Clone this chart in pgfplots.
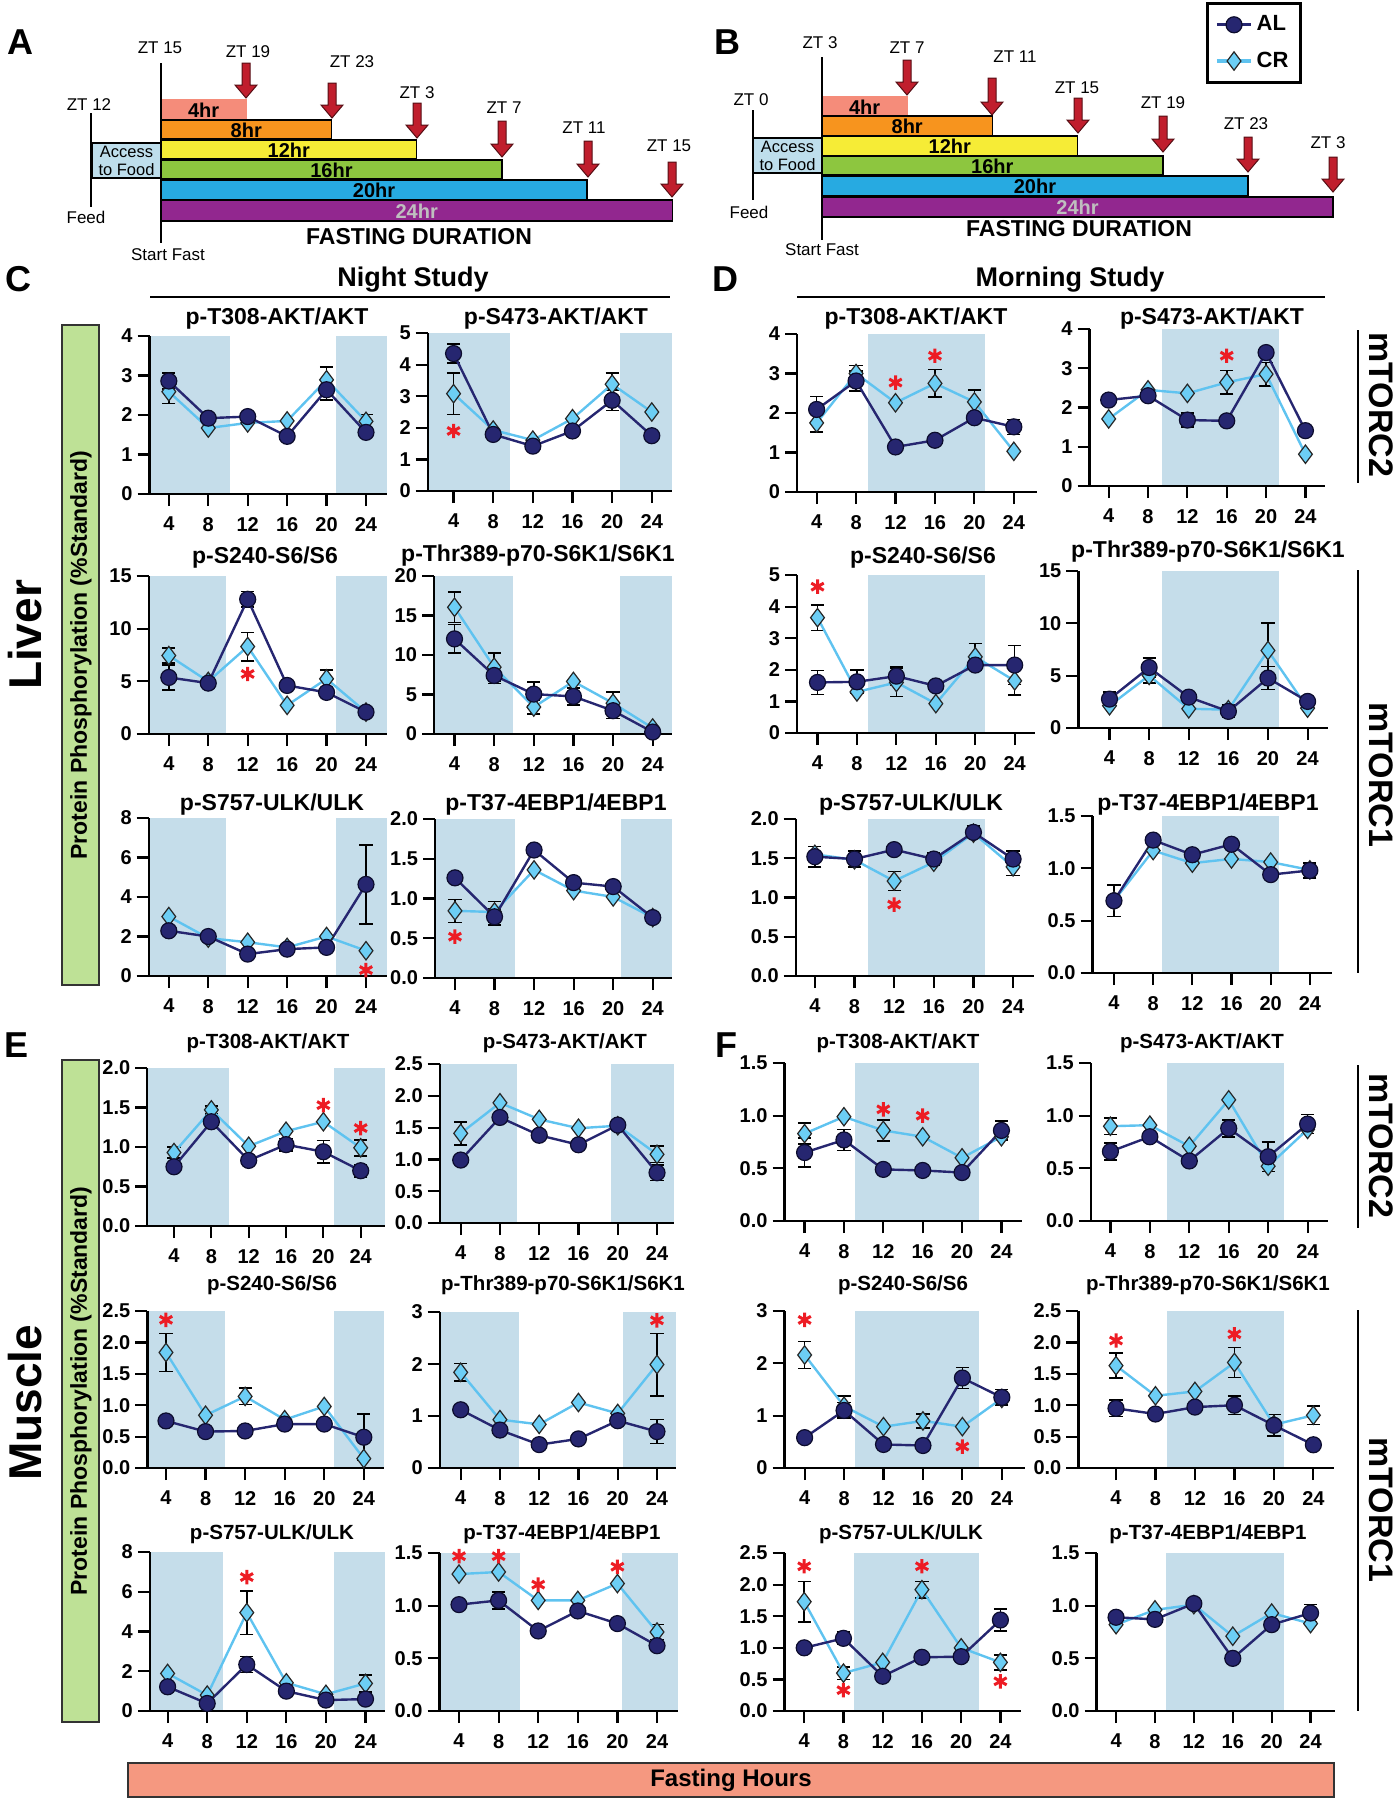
\documentclass[border=0pt]{standalone}
\usepackage{fontspec}
\setmainfont{Liberation Sans}
\usepackage{pgfplots}
\pgfplotsset{compat=1.18}
\definecolor{shade}{RGB}{197,221,234}
\definecolor{alc}{RGB}{38,38,112}
\definecolor{aledge}{RGB}{12,12,45}
\definecolor{crc}{RGB}{108,206,245}
\definecolor{crline}{RGB}{95,195,240}
\definecolor{astred}{RGB}{237,28,36}
\definecolor{arrowred}{RGB}{192,30,45}
\definecolor{bar4}{RGB}{245,140,122}
\definecolor{bar8}{RGB}{247,148,30}
\definecolor{bar12}{RGB}{246,236,54}
\definecolor{bar16}{RGB}{141,198,63}
\definecolor{bar20}{RGB}{39,170,225}
\definecolor{bar24}{RGB}{146,39,143}
\definecolor{accessc}{RGB}{190,222,236}
\definecolor{greenbox}{RGB}{190,225,150}
\definecolor{fastc}{RGB}{245,152,128}
\pgfplotsset{
 /pgf/number format/assume math mode=true,
 panel/.style={scale only axis, anchor=south west, axis on top, clip=false,
   axis x line*=bottom, axis y line*=left, axis line style={line width=1.2pt},
   every tick/.style={black, line width=1.1pt}, tick align=outside, major tick length=6pt,
   xtick={4,8,12,16,20,24}, ymin=0, minor tick num=0,
   tick label style={font=\bfseries\fontsize{10}{12}\selectfont},
   xticklabel style={yshift=-2pt}, yticklabel style={xshift=1pt}},
 dec/.style={yticklabel style={/pgf/number format/fixed, /pgf/number format/fixed zerofill, /pgf/number format/precision=1}},
 shadeplot/.style={fill=shade, draw=none, forget plot},
 alp/.style={color=alc, line width=1.2pt, mark=*, mark size=4pt, mark options={fill=alc, draw=aledge, line width=0.6pt}, forget plot},
 crp/.style={color=crline, line width=1.2pt, mark=diamond*, mark size=4.6pt, mark options={fill=crc, draw=black!85, line width=0.6pt}, forget plot},
 errp/.style={black, only marks, mark=none, forget plot, error bars/.cd, y dir=both, y explicit, error bar style={line width=0.8pt, black}, error mark options={rotate=90, black, line width=0.8pt, mark size=3.3pt}},
 astp/.style={only marks, mark=asterisk, mark size=3.6pt, color=astred, mark options={line width=1.5pt}, forget plot},
 barst/.style={draw=black, line width=0.8pt, forget plot},
}
\newcommand\ttlL[3]{\node[font=\bfseries\fontsize{11.5}{13}\selectfont] at (#1,#2) {#3};}
\newcommand\ttlM[3]{\node[font=\bfseries\fontsize{10.25}{12}\selectfont] at (#1,#2) {#3};}
\newcommand\zt[3]{\node[font=\fontsize{8.5}{10}\selectfont] at (#1,#2) {#3};}
\newcommand\darr[3]{\filldraw[fill=arrowred, draw=black!55!arrowred, line width=0.5pt] (#1-4,#2) -- (#1+4,#2) -- (#1+4,#3-13) -- (#1+11,#3-13) -- (#1,#3) -- (#1-11,#3-13) -- (#1-4,#3-13) -- cycle;}
\begin{document}
\begin{tikzpicture}[x=0.5pt,y=-0.5pt]
\useasboundingbox (0,0) rectangle (1398,1800);

% ================= Panel A =================
\begin{axis}[at={(0pt,-132.5pt)}, anchor=south west, scale only axis, width=350pt, height=132.5pt, hide axis, clip=false, xmin=-7.56, xmax=25.3, ymin=0, ymax=265, y dir=reverse]
\addplot[barst, fill=accessc] coordinates {(-3.24,143) (0,143) (0,178) (-3.24,178)} -- cycle;
\addplot[barst, fill=bar4, draw=bar4] coordinates {(0,100) (4,100) (4,119) (0,119)} -- cycle;
\addplot[barst, fill=bar8] coordinates {(0,120) (8,120) (8,139) (0,139)} -- cycle;
\addplot[barst, fill=bar12] coordinates {(0,140) (12,140) (12,159) (0,159)} -- cycle;
\addplot[barst, fill=bar16] coordinates {(0,160) (16,160) (16,179) (0,179)} -- cycle;
\addplot[barst, fill=bar20] coordinates {(0,180) (20,180) (20,200) (0,200)} -- cycle;
\addplot[barst, fill=bar24] coordinates {(0,200) (24,200) (24,221) (0,221)} -- cycle;
\node[font=\bfseries\fontsize{10}{11}\selectfont] at (axis cs:2,110) {4hr};
\node[font=\bfseries\fontsize{10}{11}\selectfont] at (axis cs:4,130) {8hr};
\node[font=\bfseries\fontsize{10}{11}\selectfont] at (axis cs:6,150) {12hr};
\node[font=\bfseries\fontsize{10}{11}\selectfont] at (axis cs:8,170) {16hr};
\node[font=\bfseries\fontsize{10}{11}\selectfont] at (axis cs:10,190) {20hr};
\node[font=\bfseries\fontsize{10}{11}\selectfont, text=black!25] at (axis cs:12,211) {24hr};
\node[font=\fontsize{8.25}{9}\selectfont, align=center, inner sep=0pt] at (axis cs:-1.62,160.5) {Access\\to Food};
\end{axis}
% ================= Panel B =================
\begin{axis}[at={(350pt,-132.5pt)}, anchor=south west, scale only axis, width=349pt, height=132.5pt, hide axis, clip=false, xmin=-5.73, xmax=27.05, ymin=0, ymax=265, y dir=reverse]
\addplot[barst, fill=accessc] coordinates {(-3.24,138) (0,138) (0,173) (-3.24,173)} -- cycle;
\addplot[barst, fill=bar4, draw=bar4] coordinates {(0,97) (4,97) (4,116) (0,116)} -- cycle;
\addplot[barst, fill=bar8] coordinates {(0,116) (8,116) (8,136) (0,136)} -- cycle;
\addplot[barst, fill=bar12] coordinates {(0,136) (12,136) (12,156) (0,156)} -- cycle;
\addplot[barst, fill=bar16] coordinates {(0,156) (16,156) (16,175) (0,175)} -- cycle;
\addplot[barst, fill=bar20] coordinates {(0,176) (20,176) (20,196) (0,196)} -- cycle;
\addplot[barst, fill=bar24] coordinates {(0,197) (24,197) (24,217) (0,217)} -- cycle;
\node[font=\bfseries\fontsize{10}{11}\selectfont] at (axis cs:2,107) {4hr};
\node[font=\bfseries\fontsize{10}{11}\selectfont] at (axis cs:4,126.5) {8hr};
\node[font=\bfseries\fontsize{10}{11}\selectfont] at (axis cs:6,146.5) {12hr};
\node[font=\bfseries\fontsize{10}{11}\selectfont] at (axis cs:8,166) {16hr};
\node[font=\bfseries\fontsize{10}{11}\selectfont] at (axis cs:10,186.5) {20hr};
\node[font=\bfseries\fontsize{10}{11}\selectfont, text=black!25] at (axis cs:12,207.5) {24hr};
\node[font=\fontsize{8.25}{9}\selectfont, align=center, inner sep=0pt] at (axis cs:-1.62,155.5) {Access\\to Food};
\end{axis}

% A annotations
\node[font=\bfseries\fontsize{18}{20}\selectfont] at (20,42) {A};
\draw[line width=0.8pt] (161,63) -- (161,243);
\draw[line width=0.8pt] (91,113) -- (91,207);
\zt{160}{48}{ZT 15}
\zt{89}{105}{ZT 12}
\zt{86}{217}{Feed}
\zt{168}{255}{Start Fast}
\darr{246}{63}{98}\zt{248}{52}{ZT 19}
\darr{332}{83}{118}\zt{352}{62}{ZT 23}
\darr{417}{103}{138}\zt{417}{93}{ZT 3}
\darr{502}{121}{157}\zt{504}{108}{ZT 7}
\darr{588}{141}{177}\zt{584}{128}{ZT 11}
\darr{672}{162}{197}\zt{669}{146}{ZT 15}
\node[font=\bfseries\fontsize{11.5}{13}\selectfont] at (419,237) {FASTING DURATION};
% B annotations
\node[font=\bfseries\fontsize{18}{20}\selectfont] at (727,42) {B};
\draw[line width=0.8pt] (822,57) -- (822,240);
\draw[line width=0.8pt] (753,110) -- (753,200);
\zt{820}{43}{ZT 3}
\zt{751}{100}{ZT 0}
\zt{749}{212}{Feed}
\zt{822}{250}{Start Fast}
\darr{907}{60}{95}\zt{907}{48}{ZT 7}
\darr{992}{78}{115}\zt{1015}{57}{ZT 11}
\darr{1078}{98}{133}\zt{1077}{88}{ZT 15}
\darr{1163}{116}{152}\zt{1163}{103}{ZT 19}
\darr{1248}{137}{172}\zt{1246}{124}{ZT 23}
\darr{1333}{157}{192}\zt{1328}{143}{ZT 3}
\node[font=\bfseries\fontsize{11.5}{13}\selectfont] at (1079,229) {FASTING DURATION};

% Section headers
\node[font=\bfseries\fontsize{18}{20}\selectfont] at (18,279) {C};
\node[font=\bfseries\fontsize{18}{20}\selectfont] at (725,279) {D};
\node[font=\bfseries\fontsize{18}{20}\selectfont] at (17,1045) {E};
\node[font=\bfseries\fontsize{18}{20}\selectfont] at (726,1045) {F};
\node[font=\bfseries\fontsize{13.5}{15}\selectfont] at (413,280) {Night Study};
\draw[line width=1pt] (150,297) -- (670,297);
\node[font=\bfseries\fontsize{13.5}{15}\selectfont] at (1070,280) {Morning Study};
\draw[line width=1pt] (797,297) -- (1325,297);

% Left labels
\node[rotate=90, font=\bfseries\fontsize{23}{26}\selectfont] at (25,635) {Liver};
\node[rotate=90, font=\bfseries\fontsize{23}{26}\selectfont] at (25,1403) {Muscle};
\filldraw[fill=greenbox, draw=black!80, line width=1.2pt] (62,325) rectangle (99,985);
\filldraw[fill=greenbox, draw=black!80, line width=1.2pt] (62,1060) rectangle (99,1722);
\node[rotate=90, font=\bfseries\fontsize{11.5}{13}\selectfont] at (81,655) {Protein Phosphorylation (\%Standard)};
\node[rotate=90, font=\bfseries\fontsize{11.5}{13}\selectfont] at (81,1391) {Protein Phosphorylation (\%Standard)};

% Right labels
\draw[line width=1pt] (1358,330) -- (1358,483);
\draw[line width=1pt] (1358,570) -- (1358,973);
\draw[line width=1pt] (1358,1065) -- (1358,1228);
\draw[line width=1pt] (1358,1310) -- (1358,1711);
\node[rotate=-90, font=\bfseries\fontsize{17}{20}\selectfont] at (1381,405) {mTORC2};
\node[rotate=-90, font=\bfseries\fontsize{17}{20}\selectfont] at (1381,775) {mTORC1};
\node[rotate=-90, font=\bfseries\fontsize{17}{20}\selectfont] at (1381,1146) {mTORC2};
\node[rotate=-90, font=\bfseries\fontsize{17}{20}\selectfont] at (1381,1510) {mTORC1};

% Fasting hours bar
\filldraw[fill=fastc, draw=black!80, line width=1.2pt] (128,1763) rectangle (1334,1797);
\node[font=\bfseries\fontsize{12}{14}\selectfont] at (731,1780) {Fasting Hours};

% Titles
\ttlL{277}{319}{p-T308-AKT/AKT}
\ttlL{556}{319}{p-S473-AKT/AKT}
\ttlL{265}{558}{p-S240-S6/S6}
\ttlL{538}{556}{p-Thr389-p70-S6K1/S6K1}
\ttlL{272}{805}{p-S757-ULK/ULK}
\ttlL{556}{805}{p-T37-4EBP1/4EBP1}
\ttlL{916}{319}{p-T308-AKT/AKT}
\ttlL{1212}{319}{p-S473-AKT/AKT}
\ttlL{923}{558}{p-S240-S6/S6}
\ttlL{1208}{552}{p-Thr389-p70-S6K1/S6K1}
\ttlL{911}{805}{p-S757-ULK/ULK}
\ttlL{1208}{805}{p-T37-4EBP1/4EBP1}
\ttlM{268}{1043}{p-T308-AKT/AKT}
\ttlM{565}{1043}{p-S473-AKT/AKT}
\ttlM{272}{1285}{p-S240-S6/S6}
\ttlM{563}{1285}{p-Thr389-p70-S6K1/S6K1}
\ttlM{272}{1534}{p-S757-ULK/ULK}
\ttlM{562}{1534}{p-T37-4EBP1/4EBP1}
\ttlM{898}{1043}{p-T308-AKT/AKT}
\ttlM{1202}{1043}{p-S473-AKT/AKT}
\ttlM{903}{1285}{p-S240-S6/S6}
\ttlM{1208}{1285}{p-Thr389-p70-S6K1/S6K1}
\ttlM{901}{1534}{p-S757-ULK/ULK}
\ttlM{1208}{1534}{p-T37-4EBP1/4EBP1}

% ================= C1 =================
\begin{axis}[panel, at={(74.8pt,-247pt)}, width=118.5pt, height=79pt, xmin=2.05, xmax=26.09, ymax=4, ytick distance=1]
\addplot[shadeplot] coordinates {(2.05,4) (10.2,4)} \closedcycle;
\addplot[shadeplot] coordinates {(21.0,4) (26.09,4)} \closedcycle;
\addplot[errp] coordinates {(4,2.59) +- (0,0.3) (20,2.89) +- (0,0.33) (24,1.84) +- (0,0.17)};
\addplot[errp] coordinates {(4,2.86) +- (0,0.2) (20,2.64) +- (0,0.26)};
\addplot[crp] coordinates {(4,2.59) (8,1.67) (12,1.80) (16,1.85) (20,2.89) (24,1.84)};
\addplot[alp] coordinates {(4,2.86) (8,1.92) (12,1.96) (16,1.46) (20,2.64) (24,1.56)};
\end{axis}
% ================= C2 =================
\begin{axis}[panel, at={(213.85pt,-245.5pt)}, width=122.1pt, height=79pt, xmin=1.39, xmax=26.03, ymax=5, ytick distance=1]
\addplot[shadeplot] coordinates {(1.39,5) (9.69,5)} \closedcycle;
\addplot[shadeplot] coordinates {(20.75,5) (26.03,5)} \closedcycle;
\addplot[errp] coordinates {(4,3.08) +- (0,0.66) (20,3.38) +- (0,0.36)};
\addplot[errp] coordinates {(4,4.35) +- (0,0.3) (20,2.87) +- (0,0.32)};
\addplot[crp] coordinates {(4,3.08) (8,1.93) (12,1.61) (16,2.29) (20,3.38) (24,2.5)};
\addplot[alp] coordinates {(4,4.35) (8,1.79) (12,1.42) (16,1.9) (20,2.87) (24,1.75)};
\addplot[astp] coordinates {(4,1.9)};
\end{axis}
% ================= C3 =================
\begin{axis}[panel, at={(74.35pt,-367pt)}, width=118.95pt, height=79pt, xmin=1.96, xmax=26.09, ymax=15, ytick distance=5]
\addplot[shadeplot] coordinates {(1.96,15) (9.8,15)} \closedcycle;
\addplot[shadeplot] coordinates {(21.0,15) (26.09,15)} \closedcycle;
\addplot[errp] coordinates {(4,7.45) +- (0,0.7) (12,8.3) +- (0,1.35) (20,5.24) +- (0,0.85)};
\addplot[errp] coordinates {(4,5.37) +- (0,1.2) (8,4.83) +- (0,0.5) (12,12.79) +- (0,0.75)};
\addplot[crp] coordinates {(4,7.45) (8,4.99) (12,8.3) (16,2.72) (20,5.24) (24,2.08)};
\addplot[alp] coordinates {(4,5.37) (8,4.83) (12,12.79) (16,4.61) (20,3.95) (24,2.08)};
\addplot[astp] coordinates {(12,5.7)};
\end{axis}
% ================= C4 =================
\begin{axis}[panel, at={(217pt,-367pt)}, width=119pt, height=79pt, xmin=1.93, xmax=25.95, ymax=20, ytick distance=5]
\addplot[shadeplot] coordinates {(1.93,20) (9.9,20)} \closedcycle;
\addplot[shadeplot] coordinates {(20.75,20) (25.95,20)} \closedcycle;
\addplot[errp] coordinates {(4,16.04) +- (0,1.9) (8,8.46) +- (0,1.8) (12,3.41) +- (0,0.9) (20,3.9) +- (0,1.4)};
\addplot[errp] coordinates {(4,12.04) +- (0,1.8) (8,7.41) +- (0,1.0) (12,5.05) +- (0,1.5) (16,4.76) +- (0,1.1) (20,2.95) +- (0,1.0)};
\addplot[crp] coordinates {(4,16.04) (8,8.46) (12,3.41) (16,6.65) (20,3.9) (24,0.76)};
\addplot[alp] coordinates {(4,12.04) (8,7.41) (12,5.05) (16,4.76) (20,2.95) (24,0.25)};
\end{axis}
% ================= C5 =================
\begin{axis}[panel, at={(74.35pt,-488pt)}, width=118.95pt, height=79pt, xmin=1.96, xmax=26.09, ymax=8, ytick distance=2]
\addplot[shadeplot] coordinates {(1.96,8) (9.8,8)} \closedcycle;
\addplot[shadeplot] coordinates {(21.0,8) (26.09,8)} \closedcycle;
\addplot[errp] coordinates {(24,4.64) +- (0,2.0)};
\addplot[crp] coordinates {(4,3.01) (8,1.92) (12,1.71) (16,1.45) (20,2.0) (24,1.28)};
\addplot[alp] coordinates {(4,2.29) (8,2.0) (12,1.11) (16,1.36) (20,1.45) (24,4.64)};
\addplot[astp] coordinates {(24,0.3)};
\end{axis}
% ================= C6 =================
\begin{axis}[panel, dec, at={(217.5pt,-489pt)}, width=118.5pt, height=79.5pt, xmin=1.98, xmax=25.95, ymax=2, ytick distance=0.5]
\addplot[shadeplot] coordinates {(1.98,2) (10.1,2)} \closedcycle;
\addplot[shadeplot] coordinates {(20.75,2) (25.95,2)} \closedcycle;
\addplot[errp] coordinates {(4,0.845) +- (0,0.145) (8,0.83) +- (0,0.13)};
\addplot[errp] coordinates {(8,0.77) +- (0,0.1)};
\addplot[crp] coordinates {(4,0.845) (8,0.83) (12,1.36) (16,1.1) (20,1.02) (24,0.76)};
\addplot[alp] coordinates {(4,1.26) (8,0.77) (12,1.61) (16,1.2) (20,1.15) (24,0.76)};
\addplot[astp] coordinates {(4,0.52)};
\end{axis}
% ================= D1 =================
\begin{axis}[panel, at={(398.5pt,-246pt)}, width=119.75pt, height=79pt, xmin=2.01, xmax=26.3, ymax=4, ytick distance=1]
\addplot[shadeplot] coordinates {(9.24,4) (21.07,4)} \closedcycle;
\addplot[errp] coordinates {(4,1.75) +- (0,0.23) (8,3.0) +- (0,0.2) (16,2.75) +- (0,0.35) (20,2.28) +- (0,0.3)};
\addplot[errp] coordinates {(4,2.09) +- (0,0.33) (8,2.81) +- (0,0.25) (24,1.65) +- (0,0.19)};
\addplot[crp] coordinates {(4,1.75) (8,3.0) (12,2.26) (16,2.75) (20,2.28) (24,1.03)};
\addplot[alp] coordinates {(4,2.09) (8,2.81) (12,1.14) (16,1.31) (20,1.88) (24,1.65)};
\addplot[astp] coordinates {(12,2.77) (16,3.45)};
\end{axis}
% ================= D2 =================
\begin{axis}[panel, at={(544.75pt,-243pt)}, width=117.95pt, height=78.5pt, xmin=2.05, xmax=26.03, ymax=4, ytick distance=1,
  legend style={at={(0.697,2.822)}, anchor=center, draw=black, line width=1.4pt, fill=white, font=\bfseries\fontsize{11}{13}\selectfont, inner xsep=4pt, inner ysep=4pt, row sep=5pt, cells={anchor=west}}]
\addplot[shadeplot] coordinates {(9.42,4) (21.29,4)} \closedcycle;
\addplot[errp] coordinates {(16,2.64) +- (0,0.3) (20,2.85) +- (0,0.3)};
\addplot[errp] coordinates {(12,1.68) +- (0,0.18)};
\addplot[crp] coordinates {(4,1.71) (8,2.45) (12,2.36) (16,2.64) (20,2.85) (24,0.81)};
\addplot[alp] coordinates {(4,2.19) (8,2.3) (12,1.68) (16,1.66) (20,3.4) (24,1.41)};
\addplot[astp] coordinates {(16,3.32)};
\addlegendimage{color=alc, line width=1.6pt, mark=*, mark size=4pt, mark options={fill=alc, draw=aledge, line width=0.6pt}}
\addlegendentry{AL}
\addlegendimage{color=crline, line width=1.6pt, mark=diamond*, mark size=4.6pt, mark options={fill=crc, draw=black!85, line width=0.6pt}}
\addlegendentry{CR}
\end{axis}
% ================= D3 =================
\begin{axis}[panel, at={(398.5pt,-366.5pt)}, width=118.9pt, height=79pt, xmin=1.92, xmax=26.04, ymax=5, ytick distance=1]
\addplot[shadeplot] coordinates {(9.15,5) (20.98,5)} \closedcycle;
\addplot[errp] coordinates {(4,3.65) +- (0,0.4) (12,1.6) +- (0,0.45) (20,2.41) +- (0,0.42) (24,1.65) +- (0,0.45)};
\addplot[errp] coordinates {(4,1.6) +- (0,0.38) (8,1.62) +- (0,0.37) (12,1.8) +- (0,0.3) (24,2.15) +- (0,0.62)};
\addplot[crp] coordinates {(4,3.65) (8,1.3) (12,1.6) (16,0.93) (20,2.41) (24,1.65)};
\addplot[alp] coordinates {(4,1.6) (8,1.62) (12,1.8) (16,1.49) (20,2.15) (24,2.15)};
\addplot[astp] coordinates {(4,4.63)};
\end{axis}
% ================= D4 =================
\begin{axis}[panel, at={(539.2pt,-364pt)}, width=124.65pt, height=78.5pt, xmin=0.86, xmax=26.03, ymax=15, ytick distance=5]
\addplot[shadeplot] coordinates {(9.3,15) (21.09,15)} \closedcycle;
\addplot[errp] coordinates {(8,5.02) +- (0,0.7) (20,7.4) +- (0,2.65)};
\addplot[errp] coordinates {(4,2.76) +- (0,0.7) (8,5.78) +- (0,0.9) (16,1.59) +- (0,0.6) (20,4.77) +- (0,1.1)};
\addplot[crp] coordinates {(4,2.13) (8,5.02) (12,1.84) (16,1.75) (20,7.4) (24,1.9)};
\addplot[alp] coordinates {(4,2.76) (8,5.78) (12,2.95) (16,1.59) (20,4.77) (24,2.54)};
\end{axis}
% ================= D5 =================
\begin{axis}[panel, dec, at={(397.85pt,-488pt)}, width=119.1pt, height=78.5pt, xmin=2.07, xmax=26.1, ymax=2, ytick distance=0.5]
\addplot[shadeplot] coordinates {(9.4,2) (21.17,2)} \closedcycle;
\addplot[errp] coordinates {(12,1.21) +- (0,0.12) (24,1.39) +- (0,0.11)};
\addplot[errp] coordinates {(4,1.52) +- (0,0.13) (8,1.49) +- (0,0.1) (16,1.49) +- (0,0.08) (20,1.83) +- (0,0.08) (24,1.49) +- (0,0.1)};
\addplot[crp] coordinates {(4,1.55) (8,1.48) (12,1.21) (16,1.45) (20,1.82) (24,1.39)};
\addplot[alp] coordinates {(4,1.52) (8,1.49) (12,1.61) (16,1.49) (20,1.83) (24,1.49)};
\addplot[astp] coordinates {(12,0.91)};
\end{axis}
% ================= D6 =================
\begin{axis}[panel, dec, at={(546.3pt,-486.5pt)}, width=119.7pt, height=78.5pt, xmin=1.82, xmax=26.26, ymax=1.5, ytick distance=0.5]
\addplot[shadeplot] coordinates {(8.9,1.5) (20.8,1.5)} \closedcycle;
\addplot[errp] coordinates {(4,0.69) +- (0,0.15) (24,0.98) +- (0,0.07)};
\addplot[crp] coordinates {(4,0.69) (8,1.17) (12,1.05) (16,1.09) (20,1.06) (24,0.985)};
\addplot[alp] coordinates {(4,0.69) (8,1.27) (12,1.13) (16,1.23) (20,0.94) (24,0.98)};
\end{axis}
% ================= E1 =================
\begin{axis}[panel, dec, at={(73.65pt,-613pt)}, width=118.75pt, height=79pt, xmin=1.14, xmax=26.58, ymax=2, ytick distance=0.5]
\addplot[shadeplot] coordinates {(1.14,2) (9.85,2)} \closedcycle;
\addplot[shadeplot] coordinates {(21.1,2) (26.58,2)} \closedcycle;
\addplot[errp] coordinates {(4,0.93) +- (0,0.07) (8,1.47) +- (0,0.05) (24,0.99) +- (0,0.1)};
\addplot[errp] coordinates {(16,1.03) +- (0,0.08) (20,0.94) +- (0,0.14) (24,0.7) +- (0,0.08)};
\addplot[crp] coordinates {(4,0.93) (8,1.47) (12,1.01) (16,1.2) (20,1.32) (24,0.99)};
\addplot[alp] coordinates {(4,0.75) (8,1.32) (12,0.83) (16,1.03) (20,0.94) (24,0.7)};
\addplot[astp] coordinates {(20,1.53) (24,1.24)};
\end{axis}
% ================= E2 =================
\begin{axis}[panel, dec, at={(219.85pt,-611.5pt)}, width=117.15pt, height=79.5pt, xmin=1.86, xmax=25.73, ymax=2.5, ytick distance=0.5]
\addplot[shadeplot] coordinates {(1.86,2.5) (9.74,2.5)} \closedcycle;
\addplot[shadeplot] coordinates {(19.3,2.5) (25.73,2.5)} \closedcycle;
\addplot[errp] coordinates {(4,1.41) +- (0,0.18) (24,1.08) +- (0,0.13)};
\addplot[errp] coordinates {(24,0.79) +- (0,0.12)};
\addplot[crp] coordinates {(4,1.41) (8,1.89) (12,1.63) (16,1.49) (20,1.53) (24,1.08)};
\addplot[alp] coordinates {(4,0.99) (8,1.66) (12,1.38) (16,1.23) (20,1.54) (24,0.79)};
\end{axis}
% ================= E3 =================
\begin{axis}[panel, dec, at={(73.65pt,-734pt)}, width=118.35pt, height=78.5pt, xmin=2.11, xmax=26.04, ymax=2.5, ytick distance=0.5]
\addplot[shadeplot] coordinates {(2.11,2.5) (9.92,2.5)} \closedcycle;
\addplot[shadeplot] coordinates {(21.0,2.5) (26.04,2.5)} \closedcycle;
\addplot[errp] coordinates {(4,1.84) +- (0,0.3) (12,1.14) +- (0,0.13)};
\addplot[errp] coordinates {(24,0.49) +- (0,0.37)};
\addplot[crp] coordinates {(4,1.84) (8,0.84) (12,1.14) (16,0.77) (20,0.98) (24,0.15)};
\addplot[alp] coordinates {(4,0.75) (8,0.58) (12,0.59) (16,0.7) (20,0.7) (24,0.49)};
\addplot[astp] coordinates {(4,2.36)};
\end{axis}
% ================= E4 =================
\begin{axis}[panel, at={(219.85pt,-734pt)}, width=118.15pt, height=78pt, xmin=1.86, xmax=25.94, ymax=3, ytick distance=1]
\addplot[shadeplot] coordinates {(1.86,3) (9.94,3)} \closedcycle;
\addplot[shadeplot] coordinates {(20.54,3) (25.94,3)} \closedcycle;
\addplot[errp] coordinates {(4,1.84) +- (0,0.17) (24,1.99) +- (0,0.6)};
\addplot[errp] coordinates {(24,0.7) +- (0,0.23)};
\addplot[crp] coordinates {(4,1.84) (8,0.93) (12,0.84) (16,1.26) (20,1.05) (24,1.99)};
\addplot[alp] coordinates {(4,1.12) (8,0.73) (12,0.45) (16,0.56) (20,0.91) (24,0.7)};
\addplot[astp] coordinates {(24,2.84)};
\end{axis}
% ================= E5 =================
\begin{axis}[panel, at={(74.9pt,-855.5pt)}, width=117.6pt, height=79.5pt, xmin=2.2, xmax=25.97, ymax=8, ytick distance=2]
\addplot[shadeplot] coordinates {(2.2,8) (9.6,8)} \closedcycle;
\addplot[shadeplot] coordinates {(20.8,8) (25.97,8)} \closedcycle;
\addplot[errp] coordinates {(12,4.95) +- (0,1.1) (24,1.39) +- (0,0.42)};
\addplot[errp] coordinates {(12,2.34) +- (0,0.4)};
\addplot[crp] coordinates {(4,1.89) (8,0.8) (12,4.95) (16,1.42) (20,0.84) (24,1.39)};
\addplot[alp] coordinates {(4,1.22) (8,0.38) (12,2.34) (16,1.0) (20,0.55) (24,0.6)};
\addplot[astp] coordinates {(12,6.74)};
\end{axis}
% ================= E6 =================
\begin{axis}[panel, dec, at={(219.75pt,-855.5pt)}, width=119.05pt, height=79pt, xmin=2.03, xmax=26.08, ymax=1.5, ytick distance=0.5]
\addplot[shadeplot] coordinates {(2.03,1.5) (10.16,1.5)} \closedcycle;
\addplot[shadeplot] coordinates {(20.46,1.5) (26.08,1.5)} \closedcycle;
\addplot[errp] coordinates {(24,0.75) +- (0,0.07)};
\addplot[errp] coordinates {(8,1.05) +- (0,0.08)};
\addplot[crp] coordinates {(4,1.3) (8,1.32) (12,1.05) (16,1.05) (20,1.21) (24,0.75)};
\addplot[alp] coordinates {(4,1.01) (8,1.05) (12,0.76) (16,0.95) (20,0.83) (24,0.62)};
\addplot[astp] coordinates {(4,1.47) (8,1.47) (12,1.2) (20,1.37)};
\end{axis}
% ================= F1 =================
\begin{axis}[panel, dec, at={(392.3pt,-610.5pt)}, width=118.6pt, height=79pt, xmin=1.97, xmax=26.07, ymax=1.5, ytick distance=0.5]
\addplot[shadeplot] coordinates {(9.12,1.5) (21.72,1.5)} \closedcycle;
\addplot[errp] coordinates {(4,0.83) +- (0,0.1) (12,0.86) +- (0,0.1)};
\addplot[errp] coordinates {(4,0.65) +- (0,0.14) (8,0.77) +- (0,0.1) (24,0.86) +- (0,0.09)};
\addplot[crp] coordinates {(4,0.83) (8,0.99) (12,0.86) (16,0.8) (20,0.6) (24,0.8)};
\addplot[alp] coordinates {(4,0.65) (8,0.77) (12,0.49) (16,0.48) (20,0.46) (24,0.86)};
\addplot[astp] coordinates {(12,1.06) (16,1.0)};
\end{axis}
% ================= F2 =================
\begin{axis}[panel, dec, at={(545.45pt,-610.5pt)}, width=118.4pt, height=79pt, xmin=2.02, xmax=26.04, ymax=1.5, ytick distance=0.5]
\addplot[shadeplot] coordinates {(9.69,1.5) (21.6,1.5)} \closedcycle;
\addplot[errp] coordinates {(4,0.9) +- (0,0.08)};
\addplot[errp] coordinates {(4,0.66) +- (0,0.08) (16,0.88) +- (0,0.08) (20,0.61) +- (0,0.14) (24,0.92) +- (0,0.09)};
\addplot[crp] coordinates {(4,0.9) (8,0.91) (12,0.71) (16,1.15) (20,0.52) (24,0.87)};
\addplot[alp] coordinates {(4,0.66) (8,0.8) (12,0.57) (16,0.88) (20,0.61) (24,0.92)};
\end{axis}
% ================= F3 =================
\begin{axis}[panel, at={(392.3pt,-734pt)}, width=120.2pt, height=78.5pt, xmin=1.97, xmax=26.35, ymax=3, ytick distance=1]
\addplot[shadeplot] coordinates {(9.11,3) (21.68,3)} \closedcycle;
\addplot[errp] coordinates {(4,2.16) +- (0,0.26) (8,1.18) +- (0,0.2) (16,0.9) +- (0,0.13)};
\addplot[errp] coordinates {(8,1.1) +- (0,0.15) (20,1.72) +- (0,0.2) (24,1.35) +- (0,0.15)};
\addplot[crp] coordinates {(4,2.16) (8,1.18) (12,0.79) (16,0.9) (20,0.79) (24,1.33)};
\addplot[alp] coordinates {(4,0.58) (8,1.1) (12,0.45) (16,0.43) (20,1.72) (24,1.35)};
\addplot[astp] coordinates {(4,2.83) (20,0.41)};
\end{axis}
% ================= F4 =================
\begin{axis}[panel, dec, at={(539.2pt,-734pt)}, width=127.8pt, height=78.5pt, xmin=0.19, xmax=26.09, ymax=2.5, ytick distance=0.5]
\addplot[shadeplot] coordinates {(9.12,2.5) (21.02,2.5)} \closedcycle;
\addplot[errp] coordinates {(4,1.63) +- (0,0.2) (16,1.68) +- (0,0.24) (24,0.84) +- (0,0.15)};
\addplot[errp] coordinates {(4,0.95) +- (0,0.13) (16,1.0) +- (0,0.15) (20,0.68) +- (0,0.17)};
\addplot[crp] coordinates {(4,1.63) (8,1.15) (12,1.22) (16,1.68) (20,0.69) (24,0.84)};
\addplot[alp] coordinates {(4,0.95) (8,0.86) (12,0.97) (16,1.0) (20,0.68) (24,0.37)};
\addplot[astp] coordinates {(4,2.03) (16,2.13)};
\end{axis}
% ================= F5 =================
\begin{axis}[panel, dec, at={(392.3pt,-855.5pt)}, width=118.2pt, height=79pt, xmin=2.0, xmax=26.1, ymax=2.5, ytick distance=0.5]
\addplot[shadeplot] coordinates {(9.07,2.5) (21.8,2.5)} \closedcycle;
\addplot[errp] coordinates {(4,1.73) +- (0,0.32) (8,0.6) +- (0,0.1) (16,1.92) +- (0,0.13) (24,0.77) +- (0,0.12)};
\addplot[errp] coordinates {(8,1.15) +- (0,0.1) (24,1.44) +- (0,0.17)};
\addplot[crp] coordinates {(4,1.73) (8,0.6) (12,0.77) (16,1.92) (20,1.0) (24,0.77)};
\addplot[alp] coordinates {(4,1.0) (8,1.15) (12,0.55) (16,0.85) (20,0.86) (24,1.44)};
\addplot[astp] coordinates {(4,2.29) (8,0.33) (16,2.29) (24,0.47)};
\end{axis}
% ================= F6 =================
\begin{axis}[panel, dec, at={(548.3pt,-855.5pt)}, width=119.05pt, height=79pt, xmin=2.0, xmax=26.48, ymax=1.5, ytick distance=0.5]
\addplot[shadeplot] coordinates {(9.14,1.5) (21.27,1.5)} \closedcycle;
\addplot[errp] coordinates {(24,0.93) +- (0,0.08)};
\addplot[crp] coordinates {(4,0.82) (8,0.96) (12,1.01) (16,0.71) (20,0.93) (24,0.83)};
\addplot[alp] coordinates {(4,0.89) (8,0.87) (12,1.02) (16,0.5) (20,0.82) (24,0.93)};
\end{axis}
\end{tikzpicture}
\end{document}
